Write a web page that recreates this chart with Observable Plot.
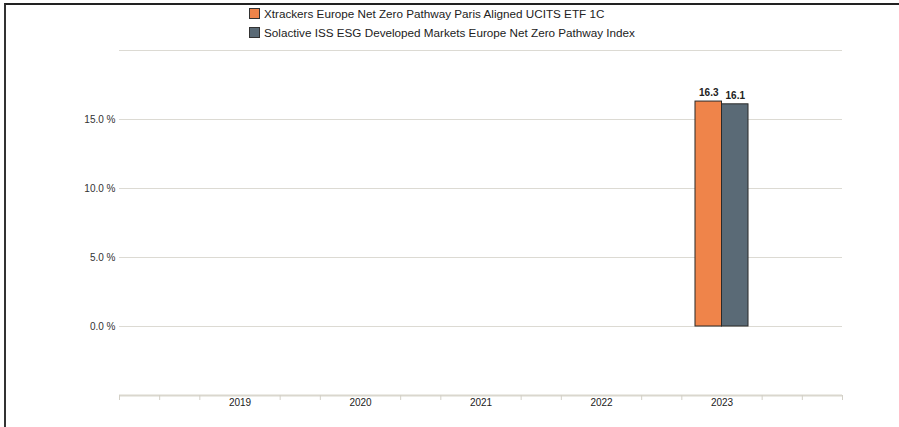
<!DOCTYPE html>
<html><head><meta charset="utf-8">
<script src="https://cdn.jsdelivr.net/npm/d3@7"></script>
<script src="https://cdn.jsdelivr.net/npm/@observablehq/plot@0.6"></script>
<style>
body{margin:0;background:#fff;font-family:"Liberation Sans",Arial,sans-serif;}
#frame{position:absolute;left:4px;top:3px;width:895px;height:424px;border-left:2px solid #333;border-top:2px solid #222;box-sizing:border-box;pointer-events:none}
#legend{height:45px;position:relative;font-size:11.7px;color:#222}
.item{position:absolute;left:249px;display:flex;align-items:center;gap:4px;white-space:nowrap}
.sw{width:9px;height:9px;border:1px solid #333}
#chart svg{display:block}
</style></head><body>
<div id="frame"></div>
<div id="legend"></div>
<div id="chart"></div>
<script>
const seriesNames = ["Xtrackers Europe Net Zero Pathway Paris Aligned UCITS ETF 1C", "Solactive ISS ESG Developed Markets Europe Net Zero Pathway Index"];
const seriesColors = ["#EF844A", "#5A6A76"];
const years = [2019, 2020, 2021, 2022, 2023];
const etfValues = [null, null, null, null, 16.3];
const indexValues = [null, null, null, null, 16.1];
const gridValues = [0, 5, 10, 15, 20];
const yTickLabels = [0, 5, 10, 15];
const minorTicks = [2018, 2018+1/3, 2018+2/3, 2019+1/3, 2019+2/3, 2020+1/3, 2020+2/3, 2021+1/3, 2021+2/3, 2022+1/3, 2022+2/3, 2023+1/3, 2023+2/3, 2024];

const legend = document.getElementById("legend");
seriesNames.forEach((n, i) => {
  const d = document.createElement("div");
  d.className = "item";
  d.style.top = (7 + i * 19) + "px";
  d.innerHTML = `<span class="sw" style="background:${seriesColors[i]}"></span><span>${n}</span>`;
  legend.appendChild(d);
});

const barW = 0.22;
const rows = [];
years.forEach((yr, i) => {
  if (etfValues[i] != null) rows.push({year: yr, s: 0, value: etfValues[i]});
  if (indexValues[i] != null) rows.push({year: yr, s: 1, value: indexValues[i]});
});

const chart = Plot.plot({
  width: 899, height: 382,
  marginLeft: 119, marginRight: 57, marginTop: 5, marginBottom: 32,
  x: {domain: [2018, 2024], axis: null},
  y: {domain: [-5, 20], axis: null},
  style: {fontFamily: "Liberation Sans, Arial, sans-serif", fontSize: "10px", color: "#333", background: "transparent"},
  marks: [
    Plot.ruleY(gridValues, {y: d => d, stroke: "#dcdad3", strokeWidth: 1}),
    Plot.text(yTickLabels, {x: 2018, y: d => d, text: d => d.toFixed(1) + " %", textAnchor: "end", dx: -4, fill: "#333"}),
    Plot.ruleY([-5], {y: d => d, stroke: "#dad7ce", strokeWidth: 2}),
    Plot.axisX(minorTicks, {tickSize: 5, stroke: "#d3d0c7", tickFormat: () => ""}),
    Plot.axisX(years, {tickSize: 0, tickPadding: 3, tickFormat: d => String(d), fill: "#222"}),
    Plot.rectY(rows, {
      x1: d => d.s === 0 ? d.year - barW : d.year,
      x2: d => d.s === 0 ? d.year : d.year + barW,
      y1: 0, y2: "value",
      fill: d => seriesColors[d.s], stroke: "#2a2a2a", strokeWidth: 1
    }),
    Plot.text(rows, {
      x: d => d.s === 0 ? d.year - barW / 2 : d.year + barW / 2,
      y: "value", text: d => d.value.toFixed(1), dy: -9, fontWeight: "bold", fill: "#222"
    })
  ]
});
document.getElementById("chart").appendChild(chart);
</script></body></html>
